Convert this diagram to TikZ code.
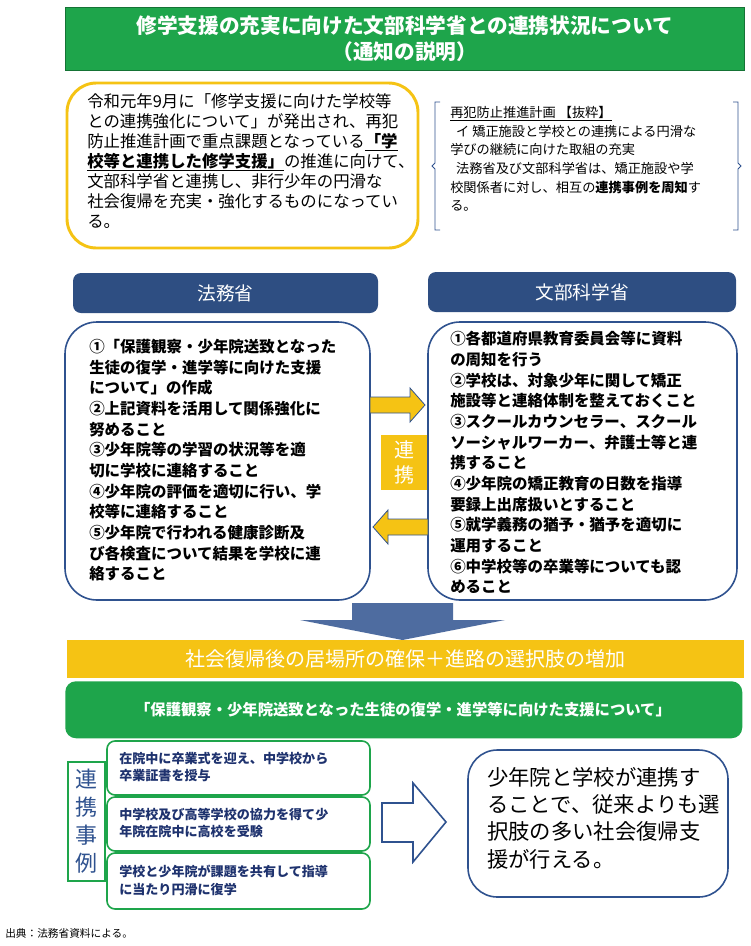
\documentclass[tikz,border=0pt]{standalone}
\usepackage{fontspec}
\setmainfont{Noto Sans CJK JP}
\definecolor{mgreen}{RGB}{30,165,75}
\definecolor{myellow}{RGB}{245,195,20}
\definecolor{ndark}{RGB}{46,78,130}
\definecolor{bblue}{RGB}{47,82,143}
\definecolor{tblue}{RGB}{30,50,110}
\newcommand{\fs}[2]{\fontsize{#1}{#2}\selectfont}
\tikzset{
 hdr/.style={fill=ndark,rounded corners=6pt,text=white},
 bigbox/.style={draw=bblue,line width=1.2pt,rounded corners=24pt,fill=white},
 casebox/.style={draw=mgreen,line width=1.2pt,rounded corners=6pt,fill=white},
 txt/.style={anchor=north west,align=left,inner sep=0pt},
 yarrow/.style={fill=myellow,draw=bblue,line width=0.6pt},
}
\begin{document}
\begin{tikzpicture}[x=0.75pt,y=-0.75pt]
\useasboundingbox (0,0) rectangle (750,946);
% title
\node[fill=mgreen,draw=mgreen!70!black,minimum width=679*0.75pt,minimum height=63*0.75pt,anchor=north west,text=white,align=center,font=\fs{15.5pt}{20pt}\bfseries] (title) at (65,7) {修学支援の充実に向けた文部科学省との連携状況について\\（通知の説明）};
% yellow box
\draw[draw=myellow,line width=2.2pt,rounded corners=22pt,fill=white] (67,83) rectangle (418,248);
\node[txt,font=\fs{12.3pt}{15pt}] (intro) at (87,93) {令和元年9月に「修学支援に向けた学校等\\との連携強化について」が発出され、再犯\\防止推進計画で重点課題となっている\textbf{\underline{「学}}\\\textbf{\underline{校等と連携した修学支援」}}の推進に向けて、\\文部科学省と連携し、非行少年の円滑な\\社会復帰を充実・強化するものになってい\\る。};
% bracket
\draw[bblue,line width=0.7pt] (440,102) -- (435,102) -- (435,163) -- (432,166) -- (435,169) -- (435,230) -- (440,230);
\draw[bblue,line width=0.7pt] (733,102) -- (738,102) -- (738,163) -- (741,166) -- (738,169) -- (738,230) -- (733,230);
\node[txt,font=\fs{9.9pt}{14pt}] (plan) at (450,106) {\underline{再犯防止推進計画\ 【抜粋】}\\\ \ イ\ 矯正施設と学校との連携による円滑な\\学びの継続に向けた取組の充実\\\ \ 法務省及び文部科学省は、矯正施設や学\\校関係者に対し、相互の\textbf{連携事例を周知}す\\る。};
% headers
\node[hdr,minimum width=305*0.75pt,minimum height=40*0.75pt,font=\fs{14pt}{16pt}] (moj) at (225.5,293) {法務省};
\node[hdr,minimum width=308*0.75pt,minimum height=40*0.75pt,font=\fs{14pt}{16pt}] (mext) at (582,292) {文部科学省};
% big boxes
\draw[bigbox] (65,322) rectangle (370,600);
\draw[bigbox] (428,322) rectangle (737,600);
\node[txt,font=\fs{11.6pt}{15.5pt}\bfseries] (ltext) at (89,339) {①「保護観察・少年院送致となった\\生徒の復学・進学等に向けた支援\\について」の作成\\②上記資料を活用して関係強化に\\努めること\\③少年院等の学習の状況等を適\\切に学校に連絡すること\\④少年院の評価を適切に行い、学\\校等に連絡すること\\⑤少年院で行われる健康診断及\\び各検査について結果を学校に連\\絡すること};
\node[txt,font=\fs{11.6pt}{15.5pt}\bfseries] (rtext) at (450,331) {①各都道府県教育委員会等に資料\\の周知を行う\\②学校は、対象少年に関して矯正\\施設等と連絡体制を整えておくこと\\③スクールカウンセラー、スクール\\ソーシャルワーカー、弁護士等と連\\携すること\\④少年院の矯正教育の日数を指導\\要録上出席扱いとすること\\⑤就学義務の猶予・猶予を適切に\\運用すること\\⑥中学校等の卒業等についても認\\めること};
% yellow arrows
\draw[yarrow] (370,397) -- (410,397) -- (410,388) -- (425,405) -- (410,422) -- (410,413) -- (370,413) -- cycle;
\draw[yarrow] (428,519) -- (388,519) -- (388,510) -- (373,527) -- (388,544) -- (388,535) -- (428,535) -- cycle;
\node[fill=myellow,minimum width=46*0.75pt,minimum height=55*0.75pt,text=white,align=center,font=\fs{15pt}{19pt}] (renkei) at (404,462.5) {連\\携};
% down arrow
\fill[bblue!85] (352,603) -- (453,603) -- (453,620) -- (505,620) -- (402.5,640) -- (300,620) -- (352,620) -- cycle;
% yellow band
\node[fill=myellow,minimum width=677*0.75pt,minimum height=38*0.75pt,anchor=north west,inner sep=0pt] (band) at (67,640) {};
\node[text=white,font=\fs{15pt}{18pt}] at (405,659) {社会復帰後の居場所の確保＋進路の選択肢の増加};
% green band
\node[fill=mgreen,rounded corners=8pt,minimum width=677*0.75pt,minimum height=57*0.75pt,anchor=north west,inner sep=0pt] (gband) at (65,681) {};
\node[text=white,font=\fs{11.5pt}{14pt}\bfseries] at (403,709.5) {「保護観察・少年院送致となった生徒の復学・進学等に向けた支援について」};
% case label
\node[draw=mgreen,line width=1.2pt,fill=white,minimum width=37*0.75pt,minimum height=119*0.75pt,anchor=north west,inner sep=0pt,text=bblue,align=center,font=\fs{16.5pt}{21pt}] (caselbl) at (67,761) {連\\携\\事\\例};
% case boxes
\draw[casebox] (107,741) rectangle (370,795);
\draw[casebox] (107,797) rectangle (370,851);
\draw[casebox] (107,853) rectangle (370,909);
\node[txt,text=tblue,font=\fs{9.8pt}{13pt}\bfseries] (c1) at (119,752) {在院中に卒業式を迎え、中学校から\\卒業証書を授与};
\node[txt,text=tblue,font=\fs{9.8pt}{13pt}\bfseries] (c2) at (119,808) {中学校及び高等学校の協力を得て少\\年院在院中に高校を受験};
\node[txt,text=tblue,font=\fs{9.8pt}{13pt}\bfseries] (c3) at (119,865) {学校と少年院が課題を共有して指導\\に当たり円滑に復学};
% hollow arrow
\draw[bblue,line width=1.2pt,fill=white] (382,803) -- (413,803) -- (413,783) -- (446,822) -- (413,862) -- (413,842) -- (382,842) -- cycle;
% result box
\draw[bblue,line width=1.2pt,rounded corners=22pt,fill=white] (468,750) rectangle (728,897);
\node[txt,font=\fs{16pt}{20.5pt}] (res) at (487,767) {少年院と学校が連携す\\ることで、従来よりも選\\択肢の多い社会復帰支\\援が行える。};
% source
\node[txt,font=\fs{8pt}{10pt}] (src) at (5,928) {出典：法務省資料による。};
\end{tikzpicture}
\end{document}
